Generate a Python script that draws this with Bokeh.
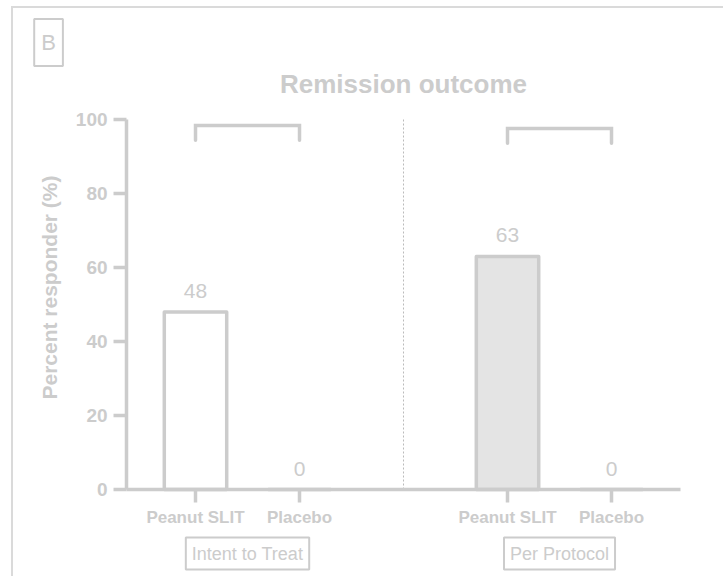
import math
from bokeh.plotting import figure
from bokeh.models import Range1d, FixedTicker, Label, ColumnDataSource
from bokeh.core.properties import value
from bokeh.embed import file_html
from bokeh.resources import INLINE

# ---- data ----
categories = ["Peanut SLIT", "Placebo"]
groups = ["Intent to Treat", "Per Protocol"]
itt_values = [48, 0]
pp_values = [63, 0]
bracket_top = [98.4, 97.6]
bracket_leg = [94.4, 93.6]
y_ticks = [0, 20, 40, 60, 80, 100]
panel_letter = "B"
chart_title = "Remission outcome"
y_label = "Percent responder (%)"

GRAY = "#cccccc"
FONT = "Liberation Sans"

# positions: each group takes 3 slots (2 categories + 1 gap)
xs, tops, fills, labels = [], [], [], []
group_values = [itt_values, pp_values]
group_fills = ["#ffffff", "#e4e4e4"]
for g, vals in enumerate(group_values):
    for c, v in enumerate(vals):
        xs.append(g * 3 + c)
        tops.append(v)
        fills.append(group_fills[g])
        labels.append(str(v))
src = ColumnDataSource(dict(x=xs, top=tops, fill=fills, label=labels))

X_LO, X_HI = -0.663, 4.663           # extent of the axes
Y_LO, Y_HI = y_ticks[0], y_ticks[-1]

W, H = 712, 570
p = figure(width=W, height=H, output_backend="svg", toolbar_location=None,
           x_range=Range1d(-1.75, 5.096), y_range=Range1d(-24.05, 130.0),
           min_border=0)
p.styles = {"border-left": "2px solid #dadada", "border-top": "2px solid #dadada",
            "margin-left": "11px", "margin-top": "6px"}
p.outline_line_color = None
p.xgrid.visible = False
p.ygrid.visible = False
p.background_fill_color = "white"
p.border_fill_color = "white"

# bars
p.vbar(x="x", top="top", bottom=0, width=0.6, source=src, fill_color="fill",
       line_color=GRAY, line_width=3.5, line_join="round")

# value labels
p.text(x="x", y="top", text="label", source=src, text_align="center",
       text_baseline="alphabetic", y_offset=-21, text_font=value(FONT),
       text_font_size="21px", text_color=GRAY)

# brackets
bxs, bys = [], []
for g in range(len(groups)):
    a, b = g * 3, g * 3 + 1
    bxs.append([a, a, b, b])
    bys.append([bracket_leg[g], bracket_top[g], bracket_top[g], bracket_leg[g]])
p.multi_line(xs=bxs, ys=bys, line_color=GRAY, line_width=3.5,
             line_join="miter", line_cap="round")

# divider between the two analyses
gap_x = len(categories)
p.segment(x0=[gap_x], y0=[Y_LO], x1=[gap_x], y1=[Y_HI], line_color="#bbbbbb",
          line_width=1, line_dash="2 2")

# axes (fixed inside the frame)
p.xaxis.fixed_location = 0
p.yaxis.fixed_location = X_LO
p.xaxis.bounds = (X_LO, X_HI)
p.yaxis.bounds = (Y_LO, Y_HI)
p.xaxis.ticker = FixedTicker(ticks=xs)
p.xaxis.major_label_overrides = {x: categories[i % 2] for i, x in enumerate(xs)}
p.yaxis.ticker = FixedTicker(ticks=y_ticks)
for ax in (p.xaxis[0], p.yaxis[0]):
    ax.axis_line_color = GRAY
    ax.axis_line_width = 3.5
    ax.major_tick_line_color = GRAY
    ax.major_tick_line_width = 3.5
    ax.major_tick_out = 13
    ax.major_tick_in = 0
    ax.minor_tick_line_color = None
    ax.major_label_text_color = GRAY
    ax.major_label_text_font = FONT
    ax.major_label_text_font_style = "bold"
p.xaxis.major_label_text_font_size = "17px"
p.xaxis.major_label_standoff = 5
p.yaxis.major_label_text_font_size = "19px"
p.yaxis.major_label_standoff = 6

# y axis title
p.add_layout(Label(x=X_LO, y=(Y_LO + Y_HI) / 2, x_offset=-77, y_offset=17,
                   text=y_label, angle=math.pi / 2, text_align="center",
                   text_baseline="middle", text_font=FONT, text_font_size="21px",
                   text_font_style="bold", text_color=GRAY))

# group labels with boxes
for g, name in enumerate(groups):
    p.add_layout(Label(x=g * 3 + 0.5, y=Y_LO, y_offset=-64, text=name,
                       text_align="center", text_baseline="middle",
                       text_font=FONT, text_font_size="18px", text_color=GRAY,
                       border_line_color=GRAY, border_line_width=2,
                       background_fill_color="white", padding=6))

# title
p.add_layout(Label(x=(X_LO + X_HI) / 2, y=Y_HI, y_offset=36, text=chart_title,
                   text_align="center", text_baseline="middle",
                   text_font=FONT, text_font_size="26px", text_font_style="bold",
                   text_color=GRAY))

# panel letter
p.add_layout(Label(x=X_LO, y=Y_HI, x_offset=-78, y_offset=77, text=panel_letter,
                   text_align="center", text_baseline="middle",
                   text_font=FONT, text_font_size="22px", text_color=GRAY,
                   border_line_color=GRAY, border_line_width=2,
                   background_fill_color="white", padding=(7, 11)))

open("out.html", "w").write(file_html(p, INLINE))
